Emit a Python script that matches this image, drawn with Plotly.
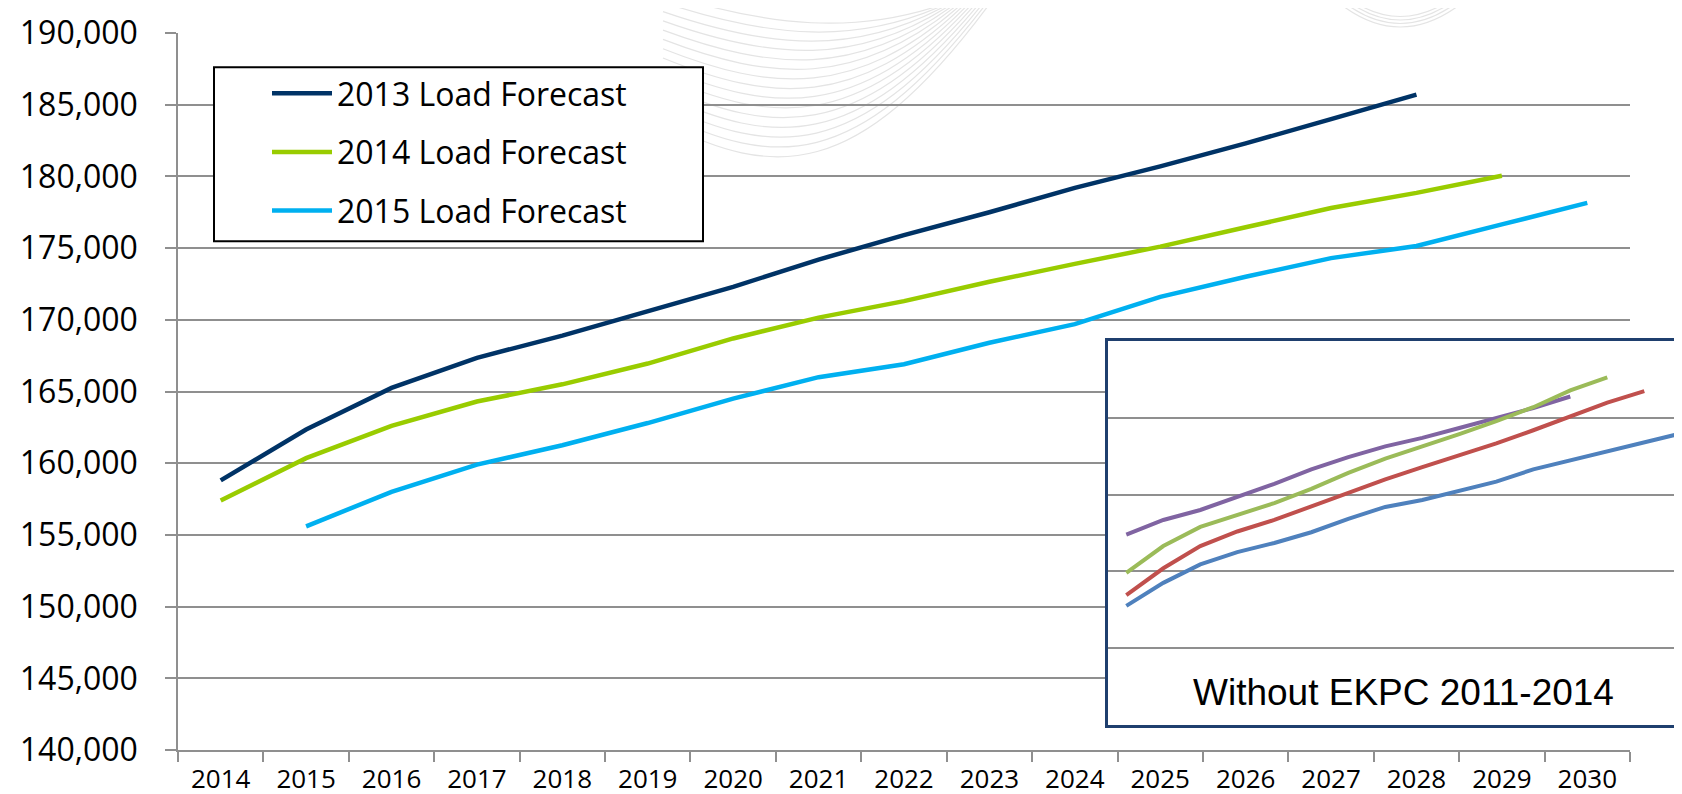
import plotly.graph_objects as go

# ---------------- data ----------------
years = [str(y) for y in range(2014, 2031)]

years_2013 = [str(y) for y in range(2014, 2029)]
load_2013 = [158800, 162350, 165250, 167350, 168900, 170600, 172300, 174200,
             175900, 177500, 179200, 180700, 182300, 184000, 185700]

years_2014 = [str(y) for y in range(2014, 2030)]
load_2014 = [157400, 160350, 162600, 164300, 165500, 166950, 168700, 170150,
             171300, 172650, 173900, 175100, 176450, 177800, 178850, 180050]

years_2015 = [str(y) for y in range(2015, 2031)]
load_2015 = [155600, 158000, 159900, 161250, 162800, 164500, 166000, 166900,
             168400, 169700, 171600, 173000, 174300, 175150, 176650, 178150]

# inset ("Without EKPC 2011-2014"), unlabeled axes, values in thousands
inset_years = list(range(2014, 2030))
inset_purple = [154.8, 156.7, 158.0, 159.7, 161.4, 163.3, 164.9, 166.3, 167.4,
                168.7, 170.0, 171.3, 172.8]
inset_green = [149.8, 153.3, 155.8, 157.4, 158.9, 160.75, 162.85, 164.7, 166.25,
               167.9, 169.6, 171.4, 173.6, 175.3]
inset_red = [146.9, 150.4, 153.3, 155.2, 156.7, 158.5, 160.2, 162.0, 163.6,
             165.1, 166.7, 168.4, 170.2, 172.0, 173.5]
inset_blue = [145.5, 148.5, 150.9, 152.5, 153.7, 155.1, 156.85, 158.4, 159.3,
              160.5, 161.7, 163.3, 164.5, 165.7, 166.9, 168.0]

# ---------------- layout helpers ----------------
W, H = 1682, 794
ML, MR, MT, MB = 170, 0, 25, 52
PW, PH = W - ML - MR, H - MT - MB


def px(x):
    return (x - ML) / PW


def py(y):
    return (H - MB - y) / PH


GRID = "#8f8f8f"
FONT = "Open Sans"

fig = go.Figure()

fig.add_trace(go.Scatter(x=years_2013, y=load_2013, mode="lines", name="2013 Load Forecast",
                         line=dict(color="#003366", width=4.5), legendgroup="a"))
fig.add_trace(go.Scatter(x=years_2014, y=load_2014, mode="lines", name="2014 Load Forecast",
                         line=dict(color="#99CC00", width=4.5), legendgroup="b"))
fig.add_trace(go.Scatter(x=years_2015, y=load_2015, mode="lines", name="2015 Load Forecast",
                         line=dict(color="#00B0F0", width=4.5), legendgroup="c"))

inset_series = [
    (inset_purple, "#8064A2"),
    (inset_green, "#9BBB59"),
    (inset_red, "#C0504D"),
    (inset_blue, "#4F81BD"),
]
for vals, col in inset_series:
    fig.add_trace(go.Scatter(x=inset_years[:len(vals)], y=vals, mode="lines",
                             line=dict(color=col, width=4), showlegend=False,
                             xaxis="x2", yaxis="y2", hoverinfo="skip"))

# watermark curves (decorative)
shapes = []
for k in range(15):
    t = k / 14
    x0, y0 = 655, -15 + 130 * t
    x1, y1 = 765, 20 + 150 * t
    x2, y2 = 848, 25 + 150 * t
    x3, y3 = 930 + 50 * t, -2
    shapes.append(dict(
        type="path", xref="paper", yref="paper", layer="below",
        path=f"M {px(x0)},{py(y0)} C {px(x1)},{py(y1)} {px(x2)},{py(y2)} {px(x3)},{py(y3)}",
        line=dict(color="#e4e4e4", width=1.2)))
for k in range(4):
    shapes.append(dict(
        type="path", xref="paper", yref="paper", layer="below",
        path=f"M {px(1335 + 6*k)},{py(-2)} Q {px(1392)},{py(40 - 7*k)} {px(1450 - 6*k)},{py(-2)}",
        line=dict(color="#e4e4e4", width=1.2)))

# legend box
shapes.append(dict(type="rect", xref="paper", yref="paper", layer="above",
                   x0=px(206), x1=px(695), y0=py(233.3), y1=py(59.3),
                   line=dict(color="black", width=2), fillcolor="white"))

fig.update_layout(
    width=W, height=H,
    margin=dict(l=ML, r=MR, t=MT, b=MB, pad=0),
    paper_bgcolor="white", plot_bgcolor="white",
    font=dict(family=FONT, color="black"),
    shapes=shapes,
    xaxis=dict(domain=[0, px(1622)], type="category", categoryorder="array",
               categoryarray=years, tickson="boundaries", ticks="outside",
               ticklen=10, tickwidth=1.5, tickcolor=GRID, showgrid=False,
               showline=True, linecolor=GRID, linewidth=1.5, zeroline=False,
               tickfont=dict(family=FONT, size=26, color="black"),
               ticklabelstandoff=5, range=[-0.5, 16.5]),
    yaxis=dict(domain=[0, 1], range=[140000, 190000], dtick=5000, tickformat=",d",
               ticks="outside", ticklen=11, tickwidth=1.5, tickcolor=GRID,
               showgrid=True, gridcolor=GRID, gridwidth=1.5, showline=True,
               linecolor=GRID, linewidth=1.5, zeroline=False,
               tickfont=dict(family=FONT, size=32, color="black"),
               ticklabelstandoff=21),
    xaxis2=dict(domain=[px(1099.8), 1], anchor="y2", range=[2013.5, 2013.5 + 582.2 / 37],
                showticklabels=False, showgrid=False, zeroline=False, ticks="",
                showline=True, mirror=True, linecolor="#1F3F6E", linewidth=3),
    yaxis2=dict(domain=[py(716.7), py(333.3)], anchor="x2", range=[130, 180], dtick=10,
                showticklabels=False, showgrid=True, gridcolor=GRID, gridwidth=1.5,
                zeroline=False, ticks="", showline=True, linecolor="#1F3F6E", linewidth=3),
    legend=dict(x=px(259), y=py(58), xanchor="left", yanchor="top",
                bgcolor="rgba(0,0,0,0)", borderwidth=0,
                font=dict(family=FONT, size=32, color="black"),
                tracegroupgap=14, itemwidth=60),
    annotations=[dict(text="Without EKPC 2011-2014", xref="paper", yref="paper",
                      x=px(1395.5), y=py(684), xanchor="center", yanchor="middle",
                      showarrow=False,
                      font=dict(family="Liberation Sans", size=37, color="black"))],
)

fig.write_html("out.html")
